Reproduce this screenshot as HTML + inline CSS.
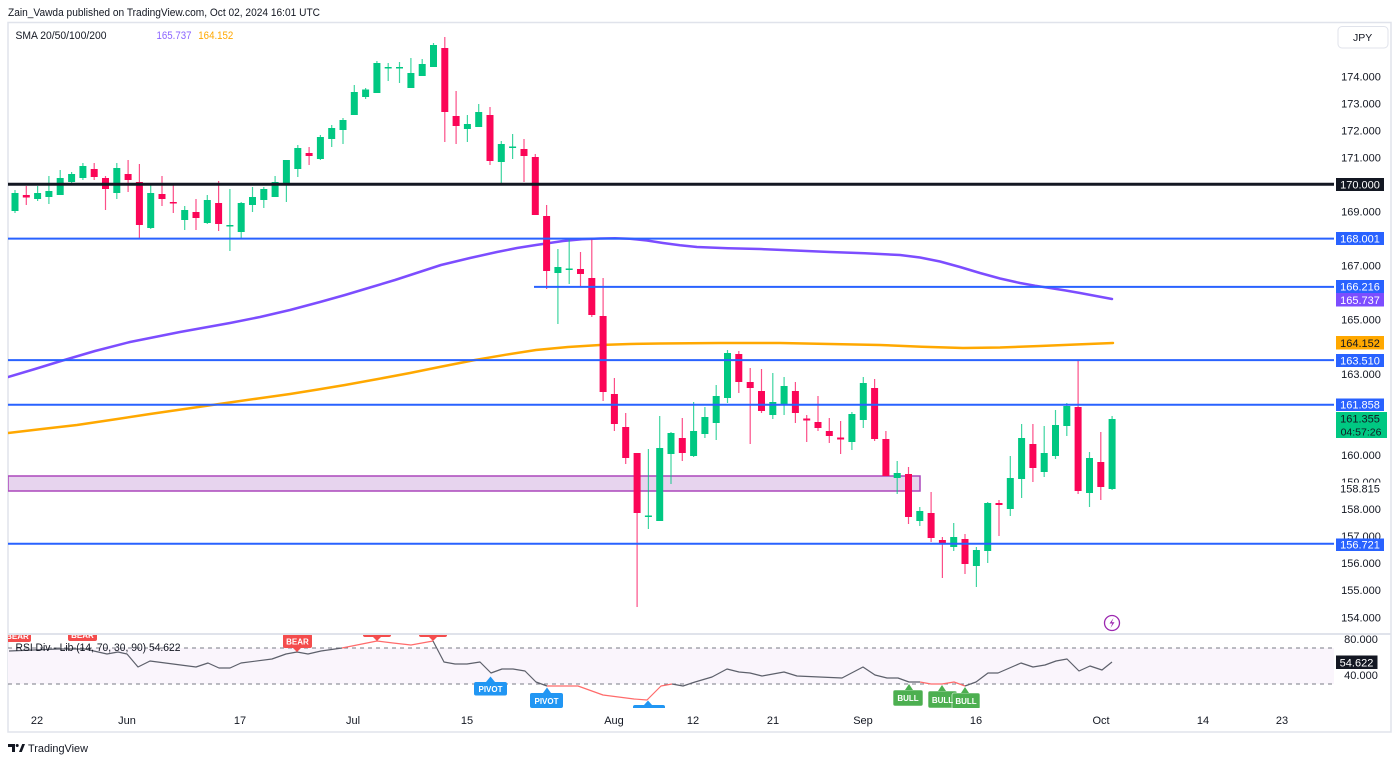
<!DOCTYPE html>
<html><head><meta charset="utf-8"><style>
html,body{margin:0;padding:0;background:#fff;}
svg{display:block;font-family:"Liberation Sans",Arial,sans-serif;}
</style></head><body>
<svg width="1400" height="763" viewBox="0 0 1400 763" xmlns="http://www.w3.org/2000/svg">
<defs>
<clipPath id="cp"><rect x="8" y="23" width="1326" height="610"/></clipPath>
<clipPath id="cr"><rect x="8" y="635" width="1326" height="73"/></clipPath>
</defs>
<rect width="1400" height="763" fill="#fff"/>
<text x="8" y="16" font-size="11" fill="#131722" textLength="312" lengthAdjust="spacingAndGlyphs">Zain_Vawda published on TradingView.com, Oct 02, 2024 16:01 UTC</text>
<rect x="8" y="22.5" width="1383" height="709.5" fill="none" stroke="#e0e3eb" stroke-width="1.5"/>
<line x1="8" y1="634" x2="1391" y2="634" stroke="#e0e3eb" stroke-width="2"/>

<g clip-path="url(#cp)">
<rect x="8" y="476" width="912" height="15" fill="#e7d4ee" stroke="#ab47bc" stroke-width="1.5"/>
<polyline fill="none" stroke="#7c4dff" stroke-width="2.5" stroke-linejoin="round" stroke-linecap="round" points="8,377 35,369 61,361 95,351 130,342 180,332 230,323 260,317 290,310 320,302 345,295 370,287.5 395,280 418,272.5 441,265 470,258 497,252 517,248 536,245 563,241 582,239.3 600,238.5 615,238.3 630,238.7 647,240.5 663,243 680,245.3 697,247 728,248.3 760,249 795,250.5 830,252 865,253.3 900,255 920,257.5 940,261.5 960,267 980,273 1000,278.5 1020,283 1035,285.7 1050,288 1065,290.4 1080,293 1096,296 1112,299"/>
<polyline fill="none" stroke="#ffa800" stroke-width="2.5" stroke-linejoin="round" stroke-linecap="round" points="8,433 42,429 77,425 114,419.5 150,414 188,408.5 226,403 258,398.5 290,394 318,389.5 345,385 378,379 410,373 442,366.5 475,360 506,354.7 536,350 568,347 600,345 630,344 660,343.5 720,343 780,343 830,344 880,345 922,346.8 963,348 1000,347.5 1040,346 1076,344.5 1113,343"/>
<g fill="#00c882" stroke="#00c882">
<g stroke-width="1.2" opacity="0.75">
<line x1="15" y1="190" x2="15" y2="213"/><line x1="37.6" y1="186" x2="37.6" y2="201"/><line x1="48.9" y1="176" x2="48.9" y2="204"/><line x1="60.2" y1="170" x2="60.2" y2="195"/><line x1="71.6" y1="172" x2="71.6" y2="185"/><line x1="82.9" y1="163" x2="82.9" y2="180"/><line x1="116.8" y1="163" x2="116.8" y2="199"/><line x1="150.7" y1="184" x2="150.7" y2="229"/><line x1="184.7" y1="206" x2="184.7" y2="230"/><line x1="207.3" y1="195" x2="207.3" y2="224"/><line x1="229.9" y1="189" x2="229.9" y2="251"/><line x1="241.2" y1="202" x2="241.2" y2="239"/><line x1="252.5" y1="187" x2="252.5" y2="212"/><line x1="263.8" y1="187" x2="263.8" y2="208"/><line x1="275.1" y1="176" x2="275.1" y2="197"/><line x1="286.4" y1="160" x2="286.4" y2="202"/><line x1="297.8" y1="145" x2="297.8" y2="177"/><line x1="320.4" y1="135" x2="320.4" y2="160"/><line x1="331.7" y1="125" x2="331.7" y2="147"/><line x1="343" y1="118" x2="343" y2="144"/><line x1="354.3" y1="85" x2="354.3" y2="115"/><line x1="365.6" y1="88" x2="365.6" y2="99"/><line x1="376.9" y1="61" x2="376.9" y2="93"/><line x1="388.2" y1="63" x2="388.2" y2="81"/><line x1="399.5" y1="62" x2="399.5" y2="83"/><line x1="410.9" y1="58" x2="410.9" y2="88"/><line x1="422.2" y1="59" x2="422.2" y2="76"/><line x1="433.5" y1="43" x2="433.5" y2="67"/><line x1="467.4" y1="115" x2="467.4" y2="142"/><line x1="478.7" y1="104" x2="478.7" y2="127"/><line x1="501.3" y1="141" x2="501.3" y2="184"/><line x1="512.6" y1="134" x2="512.6" y2="159"/><line x1="557.9" y1="249" x2="557.9" y2="324"/><line x1="569.2" y1="238" x2="569.2" y2="284"/><line x1="648.4" y1="449" x2="648.4" y2="529"/><line x1="659.7" y1="416" x2="659.7" y2="521"/><line x1="671" y1="432" x2="671" y2="484"/><line x1="693.6" y1="402" x2="693.6" y2="457"/><line x1="704.9" y1="407" x2="704.9" y2="438"/><line x1="716.2" y1="385" x2="716.2" y2="440"/><line x1="727.5" y1="350" x2="727.5" y2="403"/><line x1="772.8" y1="373" x2="772.8" y2="419"/><line x1="784.1" y1="377" x2="784.1" y2="415"/><line x1="851.9" y1="412" x2="851.9" y2="450"/><line x1="863.3" y1="377" x2="863.3" y2="428"/><line x1="897.2" y1="461" x2="897.2" y2="494"/><line x1="919.8" y1="507" x2="919.8" y2="526"/><line x1="953.7" y1="523" x2="953.7" y2="551"/><line x1="976.4" y1="547" x2="976.4" y2="587"/><line x1="987.7" y1="502" x2="987.7" y2="563"/><line x1="1010.3" y1="456" x2="1010.3" y2="516"/><line x1="1021.6" y1="424" x2="1021.6" y2="498"/><line x1="1044.2" y1="426" x2="1044.2" y2="477"/><line x1="1055.5" y1="410" x2="1055.5" y2="459"/><line x1="1066.8" y1="403" x2="1066.8" y2="436"/><line x1="1089.5" y1="452" x2="1089.5" y2="507"/><line x1="1112.1" y1="416" x2="1112.1" y2="490"/>
</g>
<g stroke="none">
<rect x="11.5" y="193" width="7" height="18"/><rect x="34.1" y="193" width="7" height="6"/><rect x="45.4" y="191" width="7" height="6"/><rect x="56.7" y="178" width="7" height="17"/><rect x="68.1" y="174" width="7" height="8"/><rect x="79.4" y="166" width="7" height="12"/><rect x="113.3" y="168" width="7" height="25"/><rect x="147.2" y="193" width="7" height="35"/><rect x="181.2" y="210" width="7" height="10"/><rect x="203.8" y="200" width="7" height="23"/><rect x="226.4" y="225" width="7" height="1.5"/><rect x="237.7" y="203" width="7" height="29"/><rect x="249" y="197" width="7" height="8"/><rect x="260.3" y="189" width="7" height="11"/><rect x="271.6" y="182" width="7" height="15"/><rect x="282.9" y="160" width="7" height="24"/><rect x="294.3" y="148" width="7" height="21"/><rect x="316.9" y="137" width="7" height="22"/><rect x="328.2" y="128" width="7" height="11"/><rect x="339.5" y="120" width="7" height="10"/><rect x="350.8" y="92" width="7" height="23"/><rect x="362.1" y="89.5" width="7" height="7.5"/><rect x="373.4" y="63" width="7" height="30"/><rect x="384.7" y="67" width="7" height="1.5"/><rect x="396" y="67" width="7" height="1.5"/><rect x="407.4" y="73" width="7" height="15"/><rect x="418.7" y="64" width="7" height="12"/><rect x="430" y="45" width="7" height="22"/><rect x="463.9" y="124" width="7" height="5"/><rect x="475.2" y="112" width="7" height="15"/><rect x="497.8" y="144" width="7" height="18"/><rect x="509.1" y="146.5" width="7" height="1.5"/><rect x="554.4" y="267" width="7" height="6"/><rect x="565.7" y="268.5" width="7" height="1.5"/><rect x="644.9" y="515.5" width="7" height="1.5"/><rect x="656.2" y="448" width="7" height="73"/><rect x="667.5" y="433" width="7" height="21"/><rect x="690.1" y="431" width="7" height="25"/><rect x="701.4" y="417" width="7" height="17"/><rect x="712.7" y="396" width="7" height="27"/><rect x="724" y="353" width="7" height="45"/><rect x="769.3" y="402" width="7" height="13"/><rect x="780.6" y="386" width="7" height="19"/><rect x="848.4" y="414" width="7" height="28"/><rect x="859.8" y="383" width="7" height="37"/><rect x="893.7" y="473" width="7" height="5"/><rect x="916.3" y="511" width="7" height="10"/><rect x="950.2" y="537" width="7" height="10"/><rect x="972.9" y="550" width="7" height="16"/><rect x="984.2" y="503" width="7" height="48"/><rect x="1006.8" y="478" width="7" height="31"/><rect x="1018.1" y="438" width="7" height="41"/><rect x="1040.7" y="453" width="7" height="19"/><rect x="1052" y="425" width="7" height="31"/><rect x="1063.3" y="406" width="7" height="20"/><rect x="1086" y="458" width="7" height="35"/><rect x="1108.6" y="419" width="7" height="70"/>
</g>
</g>
<g fill="#fb0557" stroke="#fb0557">
<g stroke-width="1.2" opacity="0.7">
<line x1="26.3" y1="186" x2="26.3" y2="205"/><line x1="94.2" y1="163" x2="94.2" y2="180"/><line x1="105.5" y1="176" x2="105.5" y2="210"/><line x1="128.1" y1="160" x2="128.1" y2="192"/><line x1="139.4" y1="164" x2="139.4" y2="238"/><line x1="162" y1="176" x2="162" y2="206"/><line x1="173.3" y1="185" x2="173.3" y2="213"/><line x1="196" y1="199" x2="196" y2="230"/><line x1="218.6" y1="181" x2="218.6" y2="231"/><line x1="309.1" y1="147" x2="309.1" y2="165"/><line x1="444.8" y1="37" x2="444.8" y2="142"/><line x1="456.1" y1="91" x2="456.1" y2="144"/><line x1="490" y1="107" x2="490" y2="165"/><line x1="524" y1="139" x2="524" y2="182"/><line x1="535.3" y1="154" x2="535.3" y2="215"/><line x1="546.6" y1="205" x2="546.6" y2="289"/><line x1="580.5" y1="252" x2="580.5" y2="287"/><line x1="591.8" y1="238" x2="591.8" y2="317"/><line x1="603.1" y1="278" x2="603.1" y2="401"/><line x1="614.4" y1="378" x2="614.4" y2="431"/><line x1="625.7" y1="413" x2="625.7" y2="464"/><line x1="637.1" y1="453" x2="637.1" y2="607"/><line x1="682.3" y1="418" x2="682.3" y2="461"/><line x1="738.8" y1="351" x2="738.8" y2="393"/><line x1="750.2" y1="368" x2="750.2" y2="444"/><line x1="761.5" y1="369" x2="761.5" y2="413"/><line x1="795.4" y1="382" x2="795.4" y2="423"/><line x1="806.7" y1="415" x2="806.7" y2="442"/><line x1="818" y1="396" x2="818" y2="431"/><line x1="829.3" y1="418" x2="829.3" y2="443"/><line x1="840.6" y1="421" x2="840.6" y2="454"/><line x1="874.6" y1="379" x2="874.6" y2="441"/><line x1="885.9" y1="431" x2="885.9" y2="476"/><line x1="908.5" y1="467" x2="908.5" y2="524"/><line x1="931.1" y1="492" x2="931.1" y2="542"/><line x1="942.4" y1="537" x2="942.4" y2="578"/><line x1="965" y1="534" x2="965" y2="574"/><line x1="999" y1="500" x2="999" y2="536"/><line x1="1032.9" y1="424" x2="1032.9" y2="482"/><line x1="1078.1" y1="361" x2="1078.1" y2="494"/><line x1="1100.8" y1="432" x2="1100.8" y2="500"/>
</g>
<g stroke="none">
<rect x="22.8" y="195" width="7" height="2.5"/><rect x="90.7" y="169" width="7" height="8"/><rect x="102" y="178" width="7" height="11"/><rect x="124.6" y="174" width="7" height="6"/><rect x="135.9" y="182" width="7" height="43"/><rect x="158.5" y="194" width="7" height="5"/><rect x="169.8" y="202" width="7" height="1.5"/><rect x="192.5" y="212" width="7" height="6"/><rect x="215.1" y="203" width="7" height="21"/><rect x="305.6" y="153" width="7" height="3"/><rect x="441.3" y="48" width="7" height="64"/><rect x="452.6" y="116" width="7" height="10"/><rect x="486.5" y="115" width="7" height="46"/><rect x="520.5" y="149" width="7" height="7"/><rect x="531.8" y="157" width="7" height="58"/><rect x="543.1" y="216" width="7" height="55"/><rect x="577" y="269" width="7" height="5"/><rect x="588.3" y="278" width="7" height="37"/><rect x="599.6" y="316" width="7" height="76"/><rect x="610.9" y="394" width="7" height="30"/><rect x="622.2" y="427" width="7" height="31"/><rect x="633.6" y="453" width="7" height="60"/><rect x="678.8" y="438" width="7" height="15"/><rect x="735.3" y="354" width="7" height="28"/><rect x="746.7" y="382" width="7" height="6"/><rect x="758" y="391" width="7" height="20"/><rect x="791.9" y="391" width="7" height="22"/><rect x="803.2" y="418.5" width="7" height="2"/><rect x="814.5" y="422" width="7" height="6"/><rect x="825.8" y="431" width="7" height="5"/><rect x="837.1" y="437.5" width="7" height="2"/><rect x="871.1" y="388" width="7" height="51"/><rect x="882.4" y="439" width="7" height="37"/><rect x="905" y="474" width="7" height="43"/><rect x="927.6" y="513" width="7" height="25"/><rect x="938.9" y="540" width="7" height="4"/><rect x="961.5" y="539" width="7" height="25"/><rect x="995.5" y="503" width="7" height="2"/><rect x="1029.4" y="444" width="7" height="24"/><rect x="1074.6" y="407" width="7" height="84"/><rect x="1097.3" y="462" width="7" height="25"/>
</g>
</g>
<line x1="8" y1="184.3" x2="1334" y2="184.3" stroke="#131722" stroke-width="3"/>
<g stroke="#2962ff" stroke-width="2">
<line x1="8" y1="238.6" x2="1334" y2="238.6"/>
<line x1="534" y1="286.9" x2="1334" y2="286.9"/>
<line x1="8" y1="360.1" x2="1334" y2="360.1"/>
<line x1="8" y1="404.7" x2="1334" y2="404.7"/>
<line x1="8" y1="543.7" x2="1334" y2="543.7"/>
</g>
<circle cx="1112" cy="623" r="7.5" fill="#fff" stroke="#9c27b0" stroke-width="1.3"/>
<path d="M1113.5,618 L1109.5,623.5 L1112.3,623.5 L1110.5,628 L1114.5,622.3 L1111.8,622.3 Z" fill="#9c27b0"/>
</g>

<text x="15.5" y="39" font-size="11" fill="#131722" textLength="91" lengthAdjust="spacingAndGlyphs">SMA 20/50/100/200</text>
<text x="156.5" y="39" font-size="11" fill="#8a63ff" textLength="35" lengthAdjust="spacingAndGlyphs">165.737</text>
<text x="198.3" y="39" font-size="11" fill="#ffa800" textLength="35" lengthAdjust="spacingAndGlyphs">164.152</text>

<rect x="1338" y="26.5" width="50" height="21.5" rx="4" fill="#fff" stroke="#e0e3eb"/>
<text x="1353" y="41" font-size="10.5" fill="#131722">JPY</text>

<g font-size="11" fill="#131722" text-anchor="middle">
<text x="1361" y="80.3">174.000</text>
<text x="1361" y="107.4">173.000</text>
<text x="1361" y="134.4">172.000</text>
<text x="1361" y="161.5">171.000</text>
<text x="1361" y="215.5">169.000</text>
<text x="1361" y="269.6">167.000</text>
<text x="1361" y="323.7">165.000</text>
<text x="1361" y="377.8">163.000</text>
<text x="1361" y="458.9">160.000</text>
<text x="1361" y="486">159.000</text>
<text x="1361" y="513">158.000</text>
<text x="1361" y="540">157.000</text>
<text x="1361" y="567.2">156.000</text>
<text x="1361" y="594.2">155.000</text>
<text x="1361" y="621.3">154.000</text>
<text x="1361" y="643">80.000</text>
<text x="1361" y="679">40.000</text>
</g>
<g font-size="11" text-anchor="middle">
<rect x="1336" y="178" width="48" height="13" fill="#131722"/><text x="1360" y="188.5" fill="#fff">170.000</text>
<rect x="1336" y="232" width="48" height="13" fill="#2962ff"/><text x="1360" y="242.5" fill="#fff">168.001</text>
<rect x="1336" y="280" width="48" height="13" fill="#2962ff"/><text x="1360" y="290.5" fill="#fff">166.216</text>
<rect x="1336" y="293" width="48" height="13.5" fill="#7c4dff"/><text x="1360" y="303.8" fill="#fff">165.737</text>
<rect x="1336" y="336" width="48" height="13.5" fill="#ffa800"/><text x="1360" y="346.8" fill="#131722">164.152</text>
<rect x="1336" y="354" width="48" height="13" fill="#2962ff"/><text x="1360" y="364.5" fill="#fff">163.510</text>
<rect x="1336" y="398.5" width="48" height="12.5" fill="#2962ff"/><text x="1360" y="408.7" fill="#fff">161.858</text>
<rect x="1336" y="412" width="51" height="26" fill="#00c882"/><text x="1360" y="422.5" fill="#131722">161.355</text><text x="1361" y="435.5" fill="#131722" font-size="10.5">04:57:26</text>
<rect x="1336" y="482.5" width="48" height="12.5" fill="#fff"/><text x="1360" y="492.5" fill="#131722">158.815</text>
<rect x="1336" y="538.5" width="48" height="12.5" fill="#2962ff"/><text x="1360" y="548.7" fill="#fff">156.721</text>
<rect x="1336" y="655.5" width="41.5" height="13.5" fill="#131722"/><text x="1356.5" y="666.3" fill="#fff">54.622</text>
</g>

<g clip-path="url(#cr)">
<rect x="8" y="648" width="1326" height="36" fill="#faf5fc"/>
<line x1="8" y1="648" x2="1334" y2="648" stroke="#787b86" stroke-dasharray="4 4" stroke-width="1"/>
<line x1="8" y1="684" x2="1334" y2="684" stroke="#787b86" stroke-dasharray="4 4" stroke-width="1"/>
<g fill="none" stroke-width="1.2" stroke-linejoin="round">
<polyline stroke="#5d606b" points="9,651 58,649 85,649 107,654 118,652 127,654 138,667 150,661 196,667 208,663 219,668 230,668 241,663 272,659 286,654 297,652 308,654 321,651 342,648"/>
<polyline stroke="#ff6b6b" points="342,648 357,645 377,641 393,643 411,645 433,641"/>
<polyline stroke="#5d606b" points="433,641 444,662 455,664 467,664 480,662 491,673 502,669 513,669 525,671 536,682 547,686"/>
<polyline stroke="#ff6b6b" points="547,686 578,686 603,695 634,699 647,700 661,686 672,684"/>
<polyline stroke="#5d606b" points="672,684 683,686 695,682 712,677 727,669 739,672 750,673 762,676 784,672 797,676 842,678 863,667 875,675 887,678 898,678 909,682 920,682"/>
<polyline stroke="#ff6b6b" points="920,682 931,684 942,684 954,682 965,686"/>
<polyline stroke="#5d606b" points="965,686 976,682 988,673 998,673 1021,663 1033,667 1045,665 1056,661 1067,659 1079,671 1090,666 1102,670 1112,662"/>
</g>
<g fill="#f44c4c">
<rect x="4" y="627" width="27" height="15" rx="2"/>
<rect x="68" y="626" width="29" height="15" rx="2"/>
<rect x="283" y="634" width="29" height="14" rx="2"/><path d="M293,648 L297,652 L301,648 Z"/>
<rect x="363" y="624" width="28" height="13" rx="2"/><path d="M373,637 L377,641 L381,637 Z"/>
<rect x="419" y="624" width="28" height="13" rx="2"/><path d="M429,637 L433,641 L437,637 Z"/>
</g>
<g font-size="8" font-weight="bold" fill="#fff" text-anchor="middle">
<text x="17.5" y="639">BEAR</text>
<text x="82.5" y="638">BEAR</text>
<text x="297.5" y="644.5">BEAR</text>
</g>
<g fill="#2196f3">
<rect x="474" y="682" width="33" height="13.5" rx="2"/><path d="M486,682 L490.5,676.5 L495,682 Z"/>
<rect x="530" y="693" width="33" height="15" rx="2"/><path d="M543,693 L547,687.5 L551,693 Z"/>
<rect x="633" y="705" width="32" height="8" rx="2"/><path d="M644,705 L648,700.5 L652,705 Z"/>
</g>
<g font-size="8" font-weight="bold" fill="#fff" text-anchor="middle">
<text x="490.5" y="692">PIVOT</text>
<text x="546.5" y="704">PIVOT</text>
</g>
<g fill="#4caf50" stroke="#fff" stroke-width="0.6">
<rect x="893" y="690" width="30" height="16" rx="2"/>
<rect x="928" y="691" width="29" height="17" rx="2"/>
<rect x="952" y="693" width="28" height="16" rx="2"/>
</g>
<g fill="#4caf50">
<path d="M905,690 L909,684 L913,690 Z"/><path d="M938,691 L942,685 L946,691 Z"/><path d="M961,693 L965,687 L969,693 Z"/>
</g>
<g font-size="8" font-weight="bold" fill="#fff" text-anchor="middle">
<text x="908" y="701">BULL</text>
<text x="942.5" y="703">BULL</text>
<text x="966" y="704">BULL</text>
</g>
</g>
<text x="15.5" y="651" font-size="11" fill="#131722" textLength="165" lengthAdjust="spacingAndGlyphs">RSI Div - Lib (14, 70, 30, 90)  54.622</text>

<g font-size="11" fill="#131722" text-anchor="middle">
<text x="37" y="724">22</text>
<text x="127" y="724">Jun</text>
<text x="240" y="724">17</text>
<text x="353" y="724">Jul</text>
<text x="467" y="724">15</text>
<text x="614" y="724">Aug</text>
<text x="693" y="724">12</text>
<text x="773" y="724">21</text>
<text x="863" y="724">Sep</text>
<text x="976" y="724">16</text>
<text x="1101" y="724">Oct</text>
<text x="1203" y="724">14</text>
<text x="1282" y="724">23</text>
</g>

<g fill="#131722">
<path d="M8,744 h7 v8 h-3 v-5 h-4 z"/>
<circle cx="17.2" cy="745.5" r="1.5"/>
<path d="M19,752 l3.2,-8 h2.8 l-3.2,8 z"/>
</g>
<text x="28" y="752" font-size="11" fill="#131722" textLength="60" lengthAdjust="spacingAndGlyphs">TradingView</text>
</svg>
</body></html>
